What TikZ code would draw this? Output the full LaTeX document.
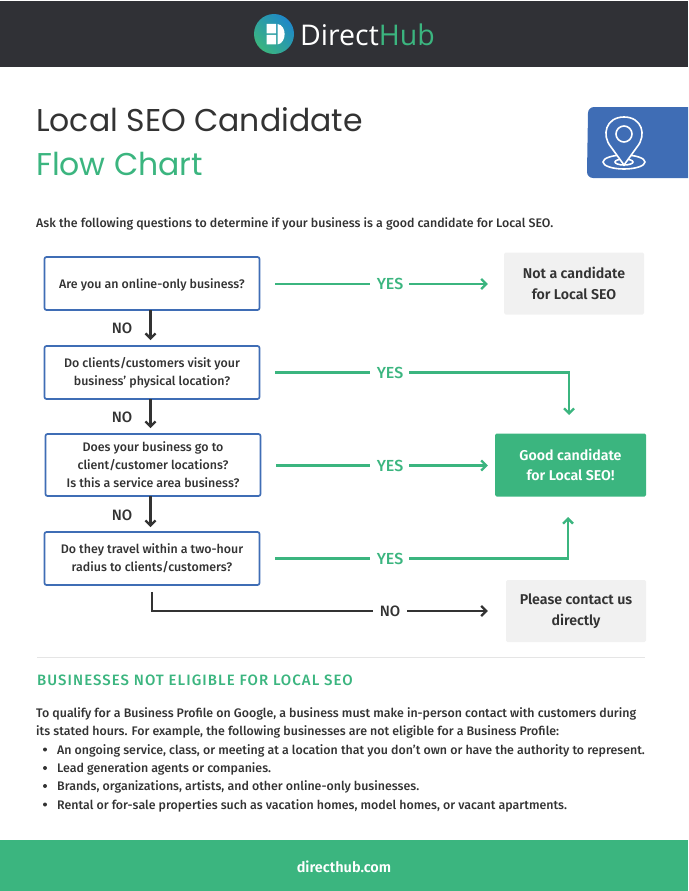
\documentclass[tikz,border=0pt]{standalone}
\usepackage{fontspec}
\setmainfont{Fira Sans}[UprightFont=* Medium,BoldFont=* SemiBold]
\newfontfamily\titlefont{Poppins}
\newfontfamily\logofont{Open Sans}
\newfontfamily\headfont{Fira Sans Medium}[LetterSpace=7]
\usetikzlibrary{positioning,calc,arrows.meta}
\definecolor{hubgreen}{HTML}{3BB57F}
\definecolor{hubblue}{HTML}{3F6DB5}
\definecolor{hubsky}{HTML}{1E88C9}
\definecolor{hubdark}{HTML}{303136}
\definecolor{hubgray}{HTML}{F1F1F1}
\definecolor{hubtext}{HTML}{333333}
\begin{document}
\begin{tikzpicture}[
					x=1pt, y=-1pt,
					question/.style={
						draw=hubblue, line width=1.7pt, rounded corners=2pt, fill=white,
						minimum width=215pt, minimum height=53pt, align=center,
						text=hubtext, font=\fontsize{12.4}{18}\selectfont, inner sep=0pt,
						execute at begin node=\rule{0pt}{15pt}
					},
					result/.style={
						fill=hubgray, rounded corners=1.5pt, minimum width=140pt, minimum height=62pt,
						align=center, text=hubtext, font=\fontsize{14.2}{20.5}\selectfont\bfseries, inner sep=0pt
					},
					yeslabel/.style={font=\fontsize{16}{16}\selectfont, text=hubgreen, inner sep=0pt},
					nolabel/.style={font=\fontsize{15}{15}\selectfont, text=hubtext, inner sep=0pt},
					yesline/.style={draw=hubgreen, line width=2.1pt},
					noline/.style={draw=hubtext, line width=2.3pt},
					tip/.style={-{Straight Barb[length=5pt,width=10pt,line width=2.3pt]}},
					body/.style={anchor=west, font=\fontsize{12.4}{14}\selectfont, text=hubtext, inner sep=0pt}
					]
					\useasboundingbox (0,0) rectangle (688,891);
					
					% header and footer
					\fill[hubdark] (0,1) rectangle (688,67);
					\fill[hubgreen] (0,840) rectangle (688,891);
					\shade[left color=hubsky, right color=hubgreen, shading angle=-45] (274,34) circle (20);
					\fill[white] (266.5,24) rectangle (276,33.5) (266.5,35) rectangle (276,44.5);
					\fill[white] (277.5,24) .. controls (287,25) and (287,43) .. (277.5,44.5) -- cycle;
					\node[anchor=west, inner sep=0pt, font=\logofont\fontsize{28.5}{29}\selectfont, text=white] (logo) at (300,35) {Direct\textcolor{hubgreen}{Hub}};
					\node[anchor=center, inner sep=0pt, font=\fontsize{14.5}{15}\selectfont\bfseries, text=white] (site) at (344,867) {directhub.com};
					
					% title
					\node[anchor=west, inner sep=0pt, font=\titlefont\fontsize{31.5}{32}\selectfont, text=hubtext] (title) at (36,120) {Local SEO Candidate};
					\node[anchor=west, inner sep=0pt, font=\titlefont\fontsize{31.5}{32}\selectfont, text=hubgreen] (flow) at (36,164) {Flow Chart};
					\node[body] (intro) at (36,224) {Ask the following questions to determine if your business is a good candidate for Local SEO.};
					
					% pin icon
					\fill[hubblue] (688,107) -- (594,107) arc[start angle=270, end angle=180, radius=6] -- (587,172) arc[start angle=180, end angle=90, radius=6] -- (688,178) -- cycle;
					\begin{scope}[line width=1.6pt]
						\draw[white] (624,162) ellipse (21 and 7);
						\draw[white] (624,162) ellipse (9 and 3);
						\draw[white, fill=hubblue] (624,165) -- (611,147) .. controls (601,135) and (606,117) .. (624,117) .. controls (642,117) and (647,135) .. (637,147) -- cycle;
						\draw[white] (624,134) circle (8);
					\end{scope}
					
					% questions
					\node[question, execute at begin node=\strut] (q1) at (152,283.5) {Are you an online-only business?};
					\node[question, below=34.3pt of q1] (q2) {Do clients/customers visit your\\business' physical location?};
					\node[question, minimum height=62pt, below=33.3pt of q2, xshift=1pt] (q3) {Does your business go to\\client/customer locations?\\Is this a service area business?};
					\node[question, below=34.3pt of q3, xshift=-1pt] (q4) {Do they travel within a two-hour\\radius to clients/customers?};
					
					% results
					\node[result] (notcand) at (574,283.5) {Not a candidate\\for Local SEO};
					\node[result, fill=hubgreen, text=white, minimum width=151pt, minimum height=63pt] (good) at (570.5,465) {Good candidate\\for Local SEO!};
					\node[result] (contact) at (576,611) {Please contact us\\directly};
					
					% labels on the lines
					\node[yeslabel] (yes1) at (390,284) {YES};
					\node[yeslabel] (yes2) at (390,372.5) {YES};
					\node[yeslabel] (yes3) at (390,465.5) {YES};
					\node[yeslabel] (yes4) at (390,558.5) {YES};
					\node[nolabel] (no1) at (122,328) {NO};
					\node[nolabel] (no2) at (122,417) {NO};
					\node[nolabel] (no3) at (122,515) {NO};
					\node[nolabel] (no4) at (390,611) {NO};
					\coordinate (goodtop) at (569,434);
					\coordinate (goodbot) at (568,497);
					\coordinate (q1foot) at (150.5,310);
					\coordinate (q2top) at (150.5,346);
					\coordinate (q2foot) at (150.5,399);
					\coordinate (q3top) at (150.5,434);
					\coordinate (q3foot) at (150.5,496);
					\coordinate (q4top) at (150.5,532);
					
					% down the column
					\draw[noline, tip, shorten >=6pt] (q1foot) -- (q2top);
					\draw[noline, tip, shorten >=6pt] (q2foot) -- (q3top);
					\draw[noline, tip, shorten >=5pt] (q3foot) -- (q4top);
					\draw[noline, shorten <=6pt, shorten >=7pt] (q4.south) |- (no4);
					\draw[noline, tip, shorten <=7pt, shorten >=18pt] (no4) -- (no4 -| contact.west);
					
					% yes lines
					\foreach \i in {1,...,4} {
						\draw[yesline, shorten <=15pt, shorten >=7pt] (q\i.east |- yes\i) -- (yes\i);
					}
					\draw[yesline, tip, shorten <=6pt, shorten >=16pt] (yes1) -- (yes1 -| notcand.west);
					\draw[yesline, tip, shorten <=6pt, shorten >=19pt] (yes2) -| (goodtop);
					\draw[yesline, tip, shorten <=6pt, shorten >=7pt] (yes3) -- (yes3 -| good.west);
					\draw[yesline, tip, shorten <=6pt, shorten >=20pt] (yes4) -| (goodbot);
					
					% lower text
					\draw[draw=black!10, line width=0.6pt] (37,657) -- (645,657);
					\node[body, font=\headfont\fontsize{15}{15}\selectfont, text=hubgreen] (head) at (37,680) {BUSINESSES NOT ELIGIBLE FOR LOCAL SEO};
					\node[body] (para1) at (36,714) {To qualify for a Business Profile on Google, a business must make in-person contact with customers during};
					\node[body] (para2) at (36,732) {its stated hours. For example, the following businesses are not eligible for a Business Profile:};
					\foreach \y/\t [count=\n] in {
						750.5/{An ongoing service, class, or meeting at a location that you don't own or have the authority to represent.},
						769/{Lead generation agents or companies.},
						787/{Brands, organizations, artists, and other online-only businesses.},
						805.5/{Rental or for-sale properties such as vacation homes, model homes, or vacant apartments.}} {
						\fill[hubtext] (45,\y-1) circle (2);
						\node[body] (item\n) at (57,\y) {\t};
					}
				\end{tikzpicture}
\end{document}
